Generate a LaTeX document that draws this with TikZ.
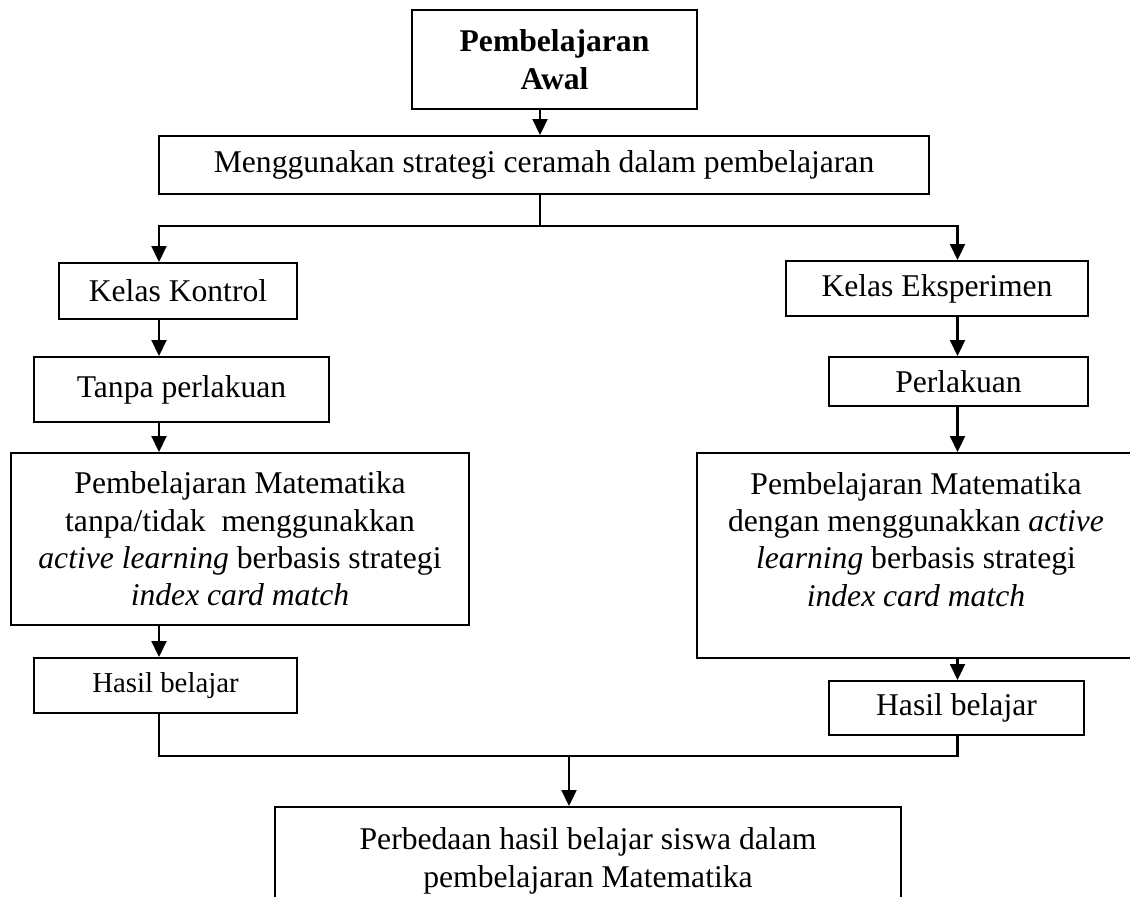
\documentclass[tikz,border=0pt]{standalone}
\usepackage{fontspec}
\setmainfont{Liberation Serif}
\usetikzlibrary{arrows.meta}
\tikzset{
  every picture/.style={line width=1.2pt},
  box/.style={draw, rectangle, align=center, inner sep=2pt, font=\fontsize{18}{21.3}\selectfont},
  txt/.style={align=center, inner sep=0pt, font=\fontsize{18}{21.3}\selectfont},
  arrow/.style={-{Triangle[length=9pt, width=8.5pt]}},
}

\begin{document}
\begin{tikzpicture}
  \clip (0,0) rectangle (22.6,-17.92);
  % top of the flow
  \node[box, minimum width=5.70cm, minimum height=1.98cm, font=\fontsize{18}{21.3}\selectfont\bfseries] (awal) at (11.09,-1.19) {Pembelajaran\\Awal};
  \node[box, minimum width=15.40cm, minimum height=1.16cm] (ceramah) at (10.88,-3.30) {Menggunakan strategi ceramah dalam pembelajaran};
  % control class
  \node[box, minimum width=4.76cm, minimum height=1.12cm] (kontrol) at (3.56,-5.82) {Kelas Kontrol};
  \node[box, minimum width=5.90cm, minimum height=1.30cm] (tanpa) at (3.63,-7.79) {Tanpa perlakuan};
  \node[box, minimum width=9.16cm, minimum height=3.44cm] (mtkL) at (4.80,-10.78) {Pembelajaran Matematika\\tanpa/tidak~ menggunakkan\\\textit{active learning} berbasis strategi\\\textit{index card match}};
  \node[box, minimum width=5.26cm, minimum height=1.10cm, font=\fontsize{16.4}{20}\selectfont] (hasilL) at (3.31,-13.71) {Hasil belajar};
  % experiment class
  \node[box, minimum width=6.04cm, minimum height=1.10cm] (eksperimen) at (18.74,-5.77) {Kelas Eksperimen};
  \node[box, minimum width=5.18cm, minimum height=0.98cm] (perlakuan) at (19.17,-7.63) {Perlakuan};
  \node[box, minimum width=8.76cm, minimum height=4.10cm] (mtkR) at (18.32,-11.11) {};
  \node[txt, anchor=north] (mtkRtext) at (18.32,-9.42) {Pembelajaran Matematika\\dengan menggunakkan \textit{active}\\\textit{learning} berbasis strategi\\\textit{index card match}};
  \node[box, minimum width=5.10cm, minimum height=1.08cm] (hasilR) at (19.13,-14.16) {Hasil belajar};
  % result
  \node[box, minimum width=12.52cm, minimum height=2.16cm] (beda) at (11.76,-17.22) {Perbedaan hasil belajar siswa dalam\\pembelajaran Matematika};

  \coordinate (lcol) at (3.18,0);
  \coordinate (rcol) at (19.15,0);
  \coordinate (fork) at (10.80,-4.52);
  \coordinate (join) at (11.38,-15.12);

  \draw[arrow] (awal.south -| fork) -- (ceramah.north -| fork);
  \draw (ceramah.south -| fork) -- (fork);
  \draw[arrow] (fork) -| (kontrol.north -| lcol);
  \draw[arrow] (fork) -| (eksperimen.north -| rcol);
  \foreach \a/\b in {kontrol/tanpa, tanpa/mtkL, mtkL/hasilL}
    \draw[arrow] (\a.south -| lcol) -- (\b.north -| lcol);
  \foreach \a/\b in {eksperimen/perlakuan, perlakuan/mtkR, mtkR/hasilR}
    \draw[arrow] (\a.south -| rcol) -- (\b.north -| rcol);
  \draw (hasilL.south -| lcol) |- (join) -| (hasilR.south -| rcol);
  \draw[arrow] (join) -- (beda.north -| join);
\end{tikzpicture}
\end{document}
